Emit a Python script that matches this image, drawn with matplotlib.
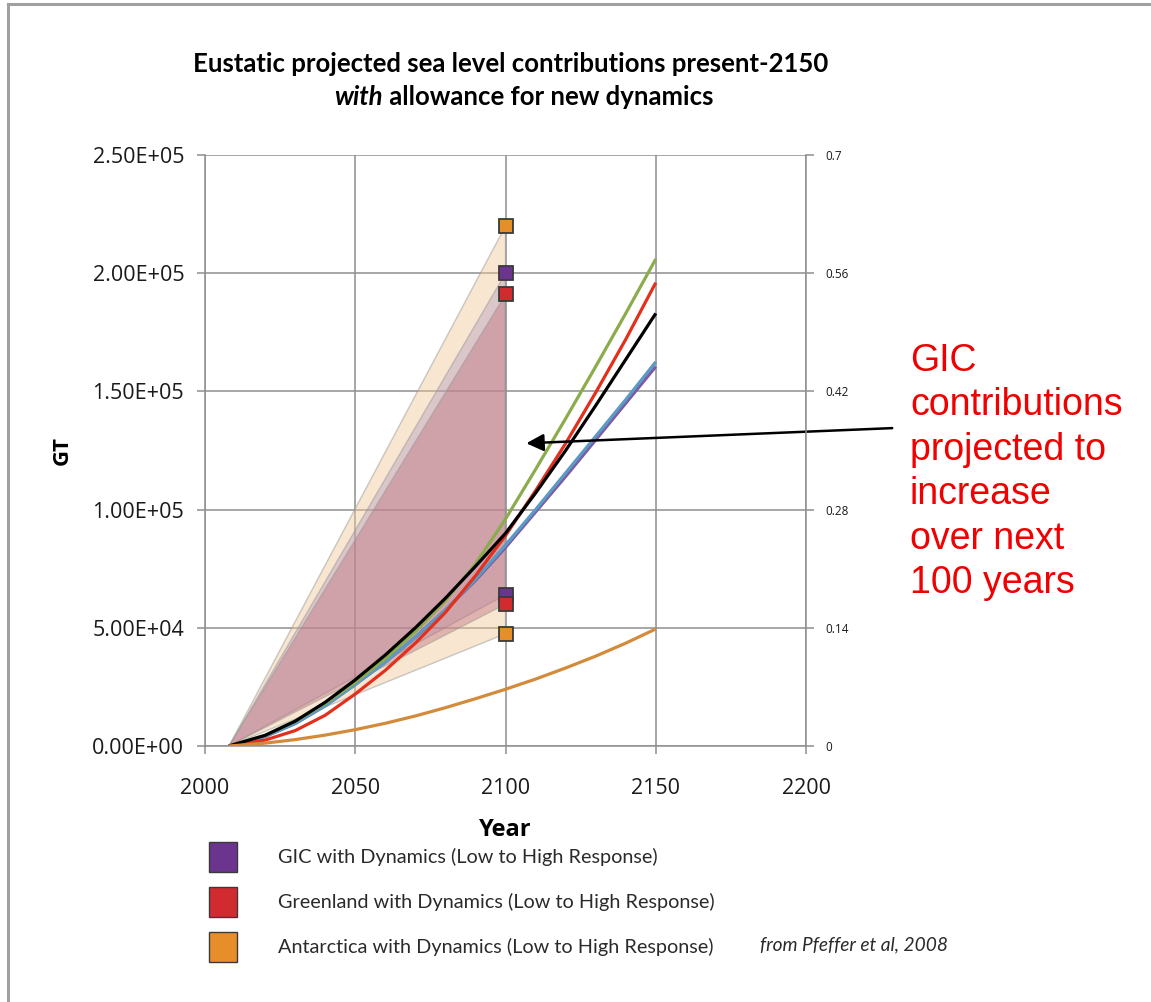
"""Eustatic sea level contributions to 2150 with the new-dynamics ranges at 2100."""

import matplotlib

matplotlib.use("Agg")
import matplotlib.pyplot as plt
from matplotlib.lines import Line2D
from matplotlib.patches import Polygon, Rectangle

# projected cumulative contributions [GT]
years = [2008, 2020, 2030, 2040, 2050, 2060, 2070, 2080, 2090, 2100, 2110, 2120, 2130, 2140, 2150]
green = [0, 4500, 10500, 18000, 27000, 37000, 48500, 61500, 77000, 96000, 117000, 138500, 160500, 183000, 206000]
red = [0, 2500, 6500, 13000, 22000, 32000, 43500, 56500, 72000, 89000, 108000, 128000, 149500, 172000, 196000]
black = [0, 4500, 10500, 18500, 28000, 38500, 50000, 62500, 76000, 90000, 107000, 125000, 144000, 163500, 183000]
purple = [0, 4000, 9500, 17000, 26000, 35500, 46000, 57500, 70000, 84000, 99000, 114000, 129500, 145000, 160500]
blue = [0, 4000, 9500, 17000, 26000, 35500, 46000, 57500, 70500, 85000, 100000, 115500, 131000, 146500, 162500]
orange = [0, 1200, 2700, 4600, 6900, 9600, 12700, 16200, 20000, 24000, 28300, 33000, 38000, 43500, 49500]

# low / high response at 2100, fanning out from 2008
range_years = [2008, 2100]
range_names = ["Antarctica", "GIC", "Greenland"]
range_low = [47500, 64000, 60000]
range_high = [220000, 200000, 191000]

legend_labels = [
    "GIC with Dynamics (Low to High Response)",
    "Greenland with Dynamics (Low to High Response)",
    "Antarctica with Dynamics (Low to High Response)",
]

x_ticks = [2000, 2050, 2100, 2150, 2200]
y_ticks = [0, 50000, 100000, 150000, 200000, 250000]
y_ticklabels = ["0.00E+00", "5.00E+04", "1.00E+05", "1.50E+05", "2.00E+05", "2.50E+05"]
r_ticks = [0, 0.14, 0.28, 0.42, 0.56, 0.7]
r_ticklabels = ["0", "0.14", "0.28", "0.42", "0.56", "0.7"]

GRID = "#8e8e8e"
fill_style = {
    "Antarctica": dict(fc="#f0c898", alpha=0.45),
    "GIC": dict(fc="#9b7cbb", alpha=0.30),
    "Greenland": dict(fc="#be6a7b", alpha=0.40),
}
marker_color = {"GIC": "#6b358f", "Greenland": "#d22b2f", "Antarctica": "#e68f2a"}

plt.rcParams["font.family"] = ["Open Sans", "DejaVu Sans"]

fig = plt.figure(figsize=(11.51, 10.02), dpi=100)
ax = fig.add_axes([0.1781, 0.2555, 0.5222, 0.5898])

# shaded ranges
for name, lo, hi in zip(range_names, range_low, range_high):
    pts = [(range_years[0], 0), (range_years[1], hi), (range_years[1], lo)]
    ax.add_patch(Polygon(pts, closed=True, ec="none", zorder=2, **fill_style[name]))
    ax.add_patch(Polygon(pts, closed=True, fc="none", ec="#999999", lw=1.0, alpha=0.5, zorder=2))

for vals, col in [(purple, "#7b5aa6"), (blue, "#5a9ac3"), (red, "#e2301d"),
                  (green, "#8cab4c"), (black, "black"), (orange, "#d38b3b")]:
    ax.plot(years, vals, color=col, lw=2.3, zorder=3, solid_capstyle="butt")

for name, lo, hi in zip(range_names, range_low, range_high):
    ax.plot([range_years[1]] * 2, [lo, hi], ls="none", marker="s", ms=10,
            mfc=marker_color[name], mec="#3a3a3a", mew=1.3, zorder=5)

ax.set_xlim(2000, 2200)
ax.set_ylim(0, 250000)
ax.set_xticks(x_ticks)
ax.set_yticks(y_ticks)
ax.set_yticklabels(y_ticklabels)
ax.grid(True, color=GRID, lw=1.1, zorder=1)
ax.set_axisbelow(True)
for side in ["top", "right"]:
    ax.spines[side].set_visible(False)
for side in ["left", "bottom"]:
    ax.spines[side].set_color(GRID)
    ax.spines[side].set_linewidth(1.1)
ax.tick_params(axis="both", colors=GRID, length=6, width=1.1, labelsize=15.5,
               labelcolor="#1a1a1a", pad=9)
ax.tick_params(axis="x", pad=17)
ax.set_xlabel("Year", fontsize=17, fontweight="bold", labelpad=14)
ax.set_ylabel("GT", fontsize=16, fontweight="bold", labelpad=14)

ax2 = ax.twinx()
ax2.set_ylim(0, 0.7)
ax2.set_yticks(r_ticks)
ax2.set_yticklabels(r_ticklabels)
for side in ["top", "left", "bottom"]:
    ax2.spines[side].set_visible(False)
ax2.spines["right"].set_color(GRID)
ax2.spines["right"].set_linewidth(1.1)
ax2.tick_params(axis="y", colors=GRID, length=6, width=1.1, labelsize=8.5,
                labelcolor="#1a1a1a", pad=8)

# title, second line mixes italic and bold
fig.text(511 / 1151, 1 - 64 / 1002, "Eustatic projected sea level contributions present-2150",
         ha="center", va="center", fontsize=18.5, fontweight="bold", family="Lato")
fig.text(383 / 1151, 1 - 97 / 1002, "with", ha="right", va="center", fontsize=18.5,
         fontweight="bold", fontstyle="italic", family="Lato")
fig.text(383 / 1151, 1 - 97 / 1002, " allowance for new dynamics", ha="left", va="center",
         fontsize=18.5, fontweight="bold", family="Lato")

# legend
for i, (label, name) in enumerate(zip(legend_labels, ["GIC", "Greenland", "Antarctica"])):
    yc = 1 - (857 + 45 * i) / 1002
    fig.patches.append(Rectangle((209 / 1151, yc - 15 / 1002), 28 / 1151, 30 / 1002,
                                 transform=fig.transFigure, fc=marker_color[name],
                                 ec="#3a3a3a", lw=1.0))
    fig.text(278 / 1151, yc, label, ha="left", va="center", fontsize=14.3,
             color="#2a2a2a", family="Lato")
fig.text(760 / 1151, 1 - 945 / 1002, "from Pfeffer et al, 2008", ha="left", va="center",
         fontsize=13.8, fontstyle="italic", color="#2a2a2a", family="Lato")

# callout
fig.text(910 / 1151, 1 - 343 / 1002,
         "GIC\ncontributions\nprojected to\nincrease\nover next\n100 years",
         ha="left", va="top", fontsize=27, color="#f00000", family="Liberation Sans",
         linespacing=1.3)
ax.annotate("", xy=(2106, 128000), xycoords="data",
            xytext=(895 / 1151, 1 - 428 / 1002), textcoords="figure fraction",
            arrowprops=dict(arrowstyle="-|>", color="black", lw=1.8, mutation_scale=26))

# page frame on the top and left
fig.add_artist(Line2D([8 / 1151, 1], [1 - 4 / 1002] * 2, color="#a0a0a0", lw=2.2,
                      transform=fig.transFigure))
fig.add_artist(Line2D([8 / 1151] * 2, [0, 1 - 4 / 1002], color="#a0a0a0", lw=2.2,
                      transform=fig.transFigure))

fig.savefig("out.png", dpi=100)
